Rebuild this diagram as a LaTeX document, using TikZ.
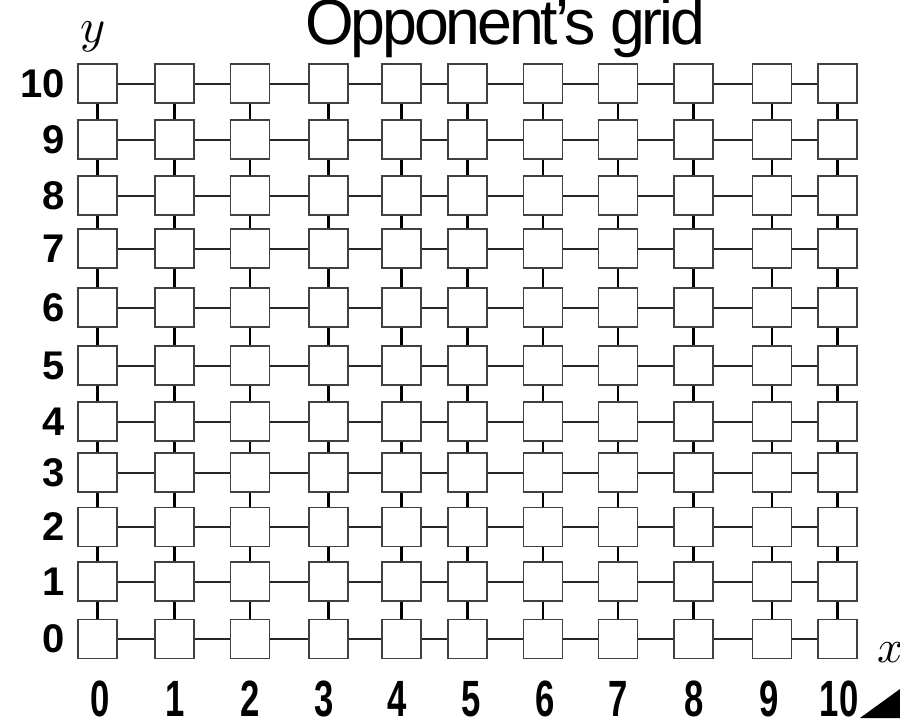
\documentclass[tikz,border=0pt]{standalone}
\usepackage{fontspec}
\setmainfont{Liberation Sans}
\usepackage{graphicx}
\usetikzlibrary{positioning}

\begin{document}
\begin{tikzpicture}[x=1pt, y=-1pt,
        % Style for the grid cells
        gridcell/.style={
            draw=black!75,
            line width=1.4pt,
            fill=white,
            minimum size=39pt,
            inner sep=0pt
        },
        % Style for the links inside a row
        rowlink/.style={
            line width=2pt,
            black!85
        },
        % Style for the links inside a column
        collink/.style={
            line width=2.8pt,
            black
        },
        % Style for the axis numbers
        rowlabel/.style={
            anchor=east,
            inner sep=0pt,
            font=\fontsize{40}{40}\selectfont\bfseries
        },
        collabel/.style={
            anchor=base,
            inner sep=0pt,
            font=\fontsize{51}{51}\selectfont\bfseries
        }
    ]
    \useasboundingbox (0,0) rectangle (900,718);

    % ==========================================
    % TITLE AND AXES
    % ==========================================
    \node[anchor=base west, inner sep=0pt, font=\fontsize{64}{64}\selectfont] (title) at (305,44)
        {\resizebox{400pt}{\height}{\addfontfeature{LetterSpace=-5}Opponent's grid}};
    \node[anchor=base west, inner sep=0pt] (ylab) at (80,42) {\scalebox{4.8}{$y$}};
    \node[anchor=base west, inner sep=0pt] (xlab) at (877,662) {\scalebox{4.6}{$x$}};
    \fill (860,718) -- (900,689) -- (900,718) -- cycle;

    % ==========================================
    % GRID CELLS
    % ==========================================
    \foreach \i/\xc in {0/97.5,1/174.5,2/250,3/328.5,4/401.5,5/467.5,6/543,7/618,8/693.5,9/772,10/837.5}
        \foreach \j/\yc in {0/639,1/581.5,2/527,3/472.5,4/421.5,5/365.5,6/307.5,7/248.5,8/195.5,9/139.5,10/83.5}
            \node[gridcell] (c-\i-\j) at (\xc,\yc) {};

    % Links between neighbouring cells
    \foreach \i in {0,...,9} {
        \pgfmathtruncatemacro{\k}{\i+1}
        \foreach \j in {0,...,10} {
            \draw[rowlink] (c-\i-\j) -- (c-\k-\j);
            \draw[collink] (c-\j-\i) -- (c-\j-\k);
        }
    }

    % Row numbers (left)
    \foreach \j/\yc in {0/639,1/581.5,2/527,3/472.5,4/421.5,5/365.5,6/307.5,7/248.5,8/195.5,9/139.5,10/83.5}
        \node[rowlabel] (yl-\j) at (65,\yc) {\j};

    % Column numbers (bottom)
    \foreach \i/\xc in {0/100,1/175,2/250,3/324,4/397,5/471,6/545,7/618,8/694,9/769,10/839}
        \node[collabel] (xl-\i) at (\xc,716) {\scalebox{0.68}[1]{\i}};
\end{tikzpicture}
\end{document}
